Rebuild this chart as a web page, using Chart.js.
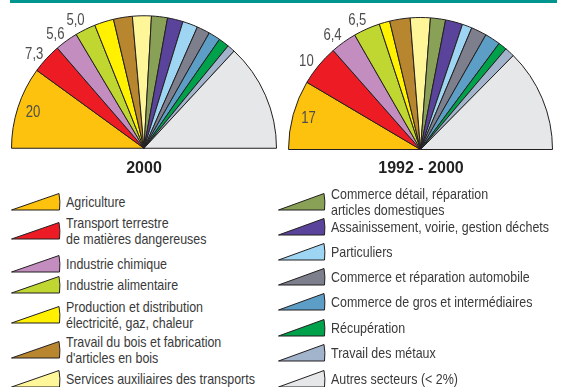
<!DOCTYPE html>
<html>
<head>
<meta charset="utf-8">
<script src="https://cdn.jsdelivr.net/npm/chart.js@4"></script>
<style>
  body { margin: 0; background: #fff; }
  #wrap { position: relative; width: 565px; height: 387px; overflow: hidden; font-family: "Liberation Sans", Arial, sans-serif; color: #3a3a3a; }
  #topline { position: absolute; left: 10px; top: 0; width: 547px; height: 2.5px; background: #00968f; }
  canvas { position: absolute; top: 0; }
  .title { position: absolute; top: 159px; width: 200px; text-align: center; font: bold 16px "Liberation Sans", Arial, sans-serif; color: #222; }
  .item { position: absolute; display: flex; align-items: center; font-size: 15px; line-height: 16px; white-space: pre; }
  .item svg { flex: none; margin-right: 5px; }
  .item span { display: inline-block; transform: scaleX(0.83); transform-origin: left center; }
</style>
</head>
<body>
<div id="wrap">
  <div id="topline"></div>
  <canvas id="c2000" width="290" height="160" style="left:0"></canvas>
  <canvas id="c9200" width="285" height="160" style="left:280px"></canvas>
  <div class="title" style="left:44px">2000</div>
  <div class="title" style="left:321px">1992 - 2000</div>
  <div id="legend"></div>
</div>
<script>
const sectors = [
  "Agriculture",
  "Transport terrestre\nde matières dangereuses",
  "Industrie chimique",
  "Industrie alimentaire",
  "Production et distribution\nélectricité, gaz, chaleur",
  "Travail du bois et fabrication\nd'articles en bois",
  "Services auxiliaires des transports",
  "Commerce détail, réparation\narticles domestiques",
  "Assainissement, voirie, gestion déchets",
  "Particuliers",
  "Commerce et réparation automobile",
  "Commerce de gros et intermédiaires",
  "Récupération",
  "Travail des métaux",
  "Autres secteurs (< 2%)"
];
const share2000 = [20, 7.3, 5.6, 5.0, 4.7, 4.6, 4.6, 3.9, 3.8, 3.7, 3.2, 2.9, 2.6, 1.9, 26.2];
const share1992_2000 = [17, 10, 6.4, 6.5, 2.6, 5.0, 4.9, 3.7, 4.2, 2.4, 3.8, 3.8, 2.1, 2.4, 25.2];
const labelledSlices = 4; // first four slices carry their value

const colors = ["#fdc20e", "#ed1c24", "#c48dc0", "#bfd730", "#fff100", "#b8862e", "#fff69a",
  "#89a157", "#5a449b", "#9dd5f3", "#7d7f8c", "#5d9ec7", "#00a14b", "#a2b4cc", "#e6e7e8"];

function fmt(v) {
  return v >= 10 ? String(Math.round(v)) : v.toFixed(1).replace(".", ",");
}

// values next to / inside the first slices
const valueLabels = {
  id: "valueLabels",
  afterDatasetsDraw(chart) {
    const ctx = chart.ctx;
    const meta = chart.getDatasetMeta(0);
    const values = chart.data.datasets[0].data;
    for (let i = 0; i < labelledSlices; i++) {
      const arc = meta.data[i];
      const mid = (arc.startAngle + arc.endAngle) / 2 - (i === 0 ? 0 : 0.035);
      const r = i === 0 ? arc.outerRadius * 0.88 : arc.outerRadius + 12;
      ctx.save();
      ctx.translate(arc.x + Math.cos(mid) * r, arc.y + Math.sin(mid) * r);
      ctx.scale(0.82, 1); // condensed look
      ctx.font = "16px 'Liberation Sans', Arial, sans-serif";
      ctx.fillStyle = "#4d4d4d";
      ctx.textAlign = "center";
      ctx.textBaseline = "middle";
      ctx.fillText(fmt(values[i]), 0, 0);
      ctx.restore();
    }
  }
};

function halfPie(id, values, padding) {
  return new Chart(document.getElementById(id), {
    type: "doughnut",
    data: {
      labels: sectors,
      datasets: [{
        data: values,
        backgroundColor: colors,
        borderColor: "#231f20",
        borderWidth: 1
      }]
    },
    options: {
      responsive: false,
      animation: false,
      rotation: -90,
      circumference: 180,
      cutout: 0,
      layout: { padding: padding },
      plugins: { legend: { display: false }, tooltip: { enabled: false } }
    },
    plugins: [valueLabels]
  });
}

halfPie("c2000", share2000, { left: 11, right: 13, top: 15, bottom: 11 });
halfPie("c9200", share1992_2000, { left: 8, right: 12, top: 17, bottom: 10 });

// legend: two columns of wedge swatches
const legendCols = [
  { x: 11, w: 49, centers: [201.5, 231, 264, 285, 315, 350, 379] },
  { x: 278, w: 47, centers: [202, 227, 252, 277, 302, 328, 353, 379] }
];
const legend = document.getElementById("legend");
let k = 0;
legendCols.forEach(col => {
  col.centers.forEach(cy => {
    const lines = sectors[k].split("\n").length;
    const h = lines * 16;
    const div = document.createElement("div");
    div.className = "item";
    div.style.left = col.x + "px";
    div.style.top = (cy - h / 2) + "px";
    div.style.height = h + "px";
    const w = col.w, ih = 17;
    div.innerHTML =
      `<svg width="${w + 1}" height="${ih + 1}" viewBox="0 0 ${w + 1} ${ih + 1}">` +
      `<path d="M0.5 ${ih} L${w - 1} 0.5 Q${w + 0.5} ${ih / 2} ${w - 0.5} ${ih} Z" fill="${colors[k]}" stroke="#231f20" stroke-width="1" stroke-linejoin="round"/></svg>` +
      `<span>${sectors[k]}</span>`;
    legend.appendChild(div);
    k++;
  });
});
</script>
</body>
</html>
